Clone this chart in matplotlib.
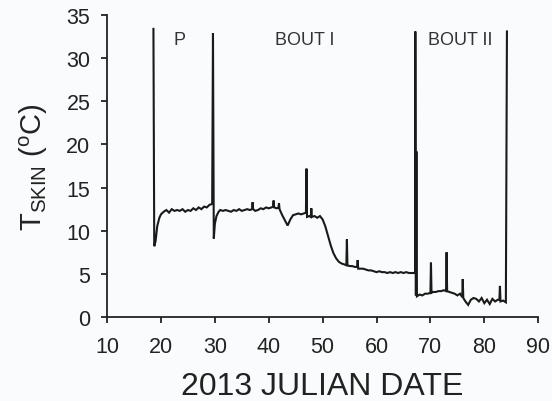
import matplotlib
matplotlib.use("Agg")
import matplotlib.pyplot as plt

plt.rcParams['font.family'] = ['Liberation Sans', 'DejaVu Sans']
plt.rcParams['mathtext.fontset'] = 'custom'
plt.rcParams['mathtext.rm'] = 'Liberation Sans'
plt.rcParams['mathtext.it'] = 'Liberation Sans'
plt.rcParams['mathtext.default'] = 'rm'

days = [18.6, 18.75, 19.0, 19.3, 19.7, 20.0, 20.5, 21.0, 21.5, 22.0, 22.5, 23.0, 23.5, 24.0,
        24.5, 25.0, 25.5, 26.0, 26.5, 27.0, 27.5, 28.0, 28.5, 29.0, 29.5, 29.65, 29.8,
        30.0, 30.3, 30.7, 31.0, 31.5, 32.0, 32.5, 33.0, 33.5, 34.0, 34.5, 35.0, 35.5, 36.0,
        36.5, 36.9, 37.0, 37.1, 37.5, 38.0, 38.5, 39.0, 39.5, 40.0, 40.5, 40.8, 40.9, 41.0,
        41.5, 41.8, 41.9, 42.0, 42.5, 43.0, 43.5, 44.0, 44.5, 45.0, 45.5, 46.0, 46.5, 46.9,
        47.0, 47.1, 47.5, 47.8, 47.9, 48.0, 48.5, 49.0, 49.5, 50.0, 50.5, 51.0, 51.5, 52.0,
        52.5, 53.0, 53.5, 54.0, 54.4, 54.5, 54.6, 55.0, 55.5, 56.0, 56.4, 56.5, 56.6, 57.0,
        57.5, 58.0, 58.5, 59.0, 59.5, 60.0, 60.5, 61.0, 61.5, 62.0, 62.5, 63.0, 63.5, 64.0,
        64.5, 65.0, 65.5, 66.0, 66.5, 67.0, 67.15, 67.2, 67.3, 67.4, 67.5,
        68.0, 68.5, 69.0, 69.5, 70.0, 70.1, 70.2, 70.5, 71.0, 71.5, 72.0, 72.5, 72.9, 73.0,
        73.1, 73.5, 74.0, 74.5, 75.0, 75.5, 75.9, 76.0, 76.1, 76.5, 77.0, 77.5, 78.0, 78.5,
        79.0, 79.5, 80.0, 80.5, 81.0, 81.5, 82.0, 82.5, 82.8, 82.9, 83.0, 83.5, 84.0, 84.2]
tskin = [33.4, 8.2, 8.8, 10.5, 11.5, 11.9, 12.2, 12.4, 12.1, 12.5, 12.3, 12.4, 12.3, 12.5,
         12.2, 12.4, 12.3, 12.6, 12.4, 12.7, 12.5, 12.8, 12.7, 13.0, 13.1, 32.9, 9.1,
         10.8, 11.7, 12.2, 12.4, 12.3, 12.4, 12.3, 12.2, 12.4, 12.3, 12.5, 12.3, 12.4, 12.5,
         12.4, 12.5, 13.3, 12.5, 12.3, 12.4, 12.6, 12.5, 12.7, 12.6, 12.7, 12.8, 13.5, 12.7,
         12.6, 12.7, 13.2, 12.5, 11.8, 11.2, 10.6, 11.3, 11.8, 11.9, 12.0, 11.9, 12.0, 12.1,
         17.2, 11.6, 11.7, 11.6, 12.6, 11.6, 11.7, 11.5, 11.7, 11.3, 10.5, 9.4, 8.3, 7.4,
         6.8, 6.4, 6.2, 6.1, 6.0, 9.0, 6.0, 5.9, 5.9, 5.8, 5.8, 6.6, 5.6, 5.6,
         5.6, 5.5, 5.4, 5.4, 5.3, 5.2, 5.3, 5.2, 5.2, 5.1, 5.2, 5.1, 5.2, 5.1,
         5.2, 5.1, 5.2, 5.1, 5.1, 5.1, 5.1, 33.1, 2.5, 19.2, 2.4,
         2.6, 2.5, 2.7, 2.7, 2.8, 6.3, 2.8, 2.9, 2.9, 3.0, 3.0, 3.1, 3.0, 7.5,
         3.0, 2.9, 2.8, 2.7, 2.5, 2.7, 2.3, 4.4, 2.2, 1.8, 1.4, 2.0, 2.2, 2.1,
         1.8, 2.2, 1.6, 2.0, 1.5, 2.1, 1.8, 2.0, 2.0, 3.6, 1.8, 1.9, 1.7, 33.1]

phase_labels = ['P', 'BOUT I', 'BOUT II']
phase_x = [23.5, 46.7, 75.6]
phase_y = [32.2, 32.2, 32.2]

xticks = [10, 20, 30, 40, 50, 60, 70, 80, 90]
yticks = [0, 5, 10, 15, 20, 25, 30, 35]

bg = '#fafbfc'
fig = plt.figure(figsize=(5.52, 4.02), dpi=100, facecolor=bg)
ax = fig.add_axes([0.194, 0.209, 0.781, 0.751], facecolor=bg)

ax.plot(days, tskin, color='#1a1a1a', lw=1.5, solid_joinstyle='miter')

for lab, x, y in zip(phase_labels, phase_x, phase_y):
    ax.text(x, y, lab, ha='center', va='center', fontsize=13, color='#333333')

ax.set_xlim(10, 90)
ax.set_ylim(0, 35)
ax.set_xticks(xticks)
ax.set_yticks(yticks)
for s in ['top', 'right']:
    ax.spines[s].set_visible(False)
for s in ['left', 'bottom']:
    ax.spines[s].set_linewidth(1.3)
    ax.spines[s].set_color('#222222')
ax.tick_params(direction='out', length=4, width=1.3, labelsize=15.5, colors='#222222')
ax.tick_params(axis='x', pad=10)
ax.tick_params(axis='y', pad=8)

ax.set_xlabel('2013 JULIAN DATE', fontsize=23, color='#222222', labelpad=10)
ax.set_ylabel(r'T$_{\mathrm{SKIN}}$ ($^{\mathrm{o}}$C)', fontsize=21, color='#222222', labelpad=12)

fig.savefig('out.png', dpi=100, facecolor=bg)
